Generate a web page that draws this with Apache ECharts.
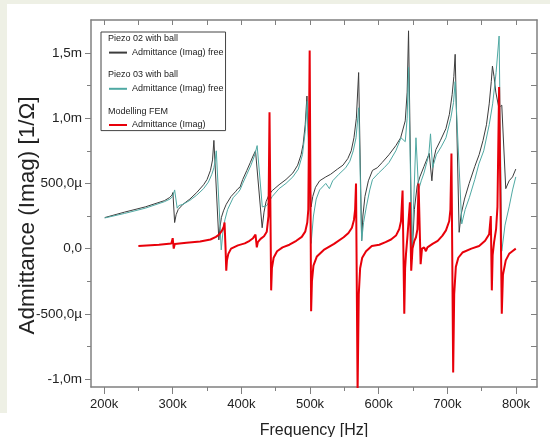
<!DOCTYPE html>
<html><head><meta charset="utf-8">
<script src="https://cdn.jsdelivr.net/npm/echarts@6/dist/echarts.min.js"></script>
<style>html,body{margin:0;padding:0;background:#fff}#c{width:550px;height:437px}</style>
</head><body><div id="c"></div>
<script>
// Frequencies in kHz, admittance in mS (1e-3 1/Ohm)
const freqPiezo02 = [201,230,260,288,295,299,300.3,302.8,305,308,315,325,335,345,350,355,358,360,367.2,369,371,374,378,385,392,395,398,400,402,408,413,417,420.6,430.3,433,436,440,445,455,465,475,482,487,490,493,495.5,501.6,504,508,514,523,530,540,548,555,560,564,567.5,570.8,575.2,577,580,585,591,598,605,615,625,632,638.7,641.5,643.5,648.4,652,656,660,666,673.6,675,677.5,680,683.4,690,697.9,703,707,709.5,711.4,717.2,720,725,731.8,740,746.3,752,757,761,764,765.7,768,770.6,775,779.3,785.1,790,795,799.7];
const valPiezo02  = [0.238,0.28,0.32,0.368,0.39,0.41,0.43,0.20,0.26,0.30,0.34,0.38,0.43,0.49,0.53,0.60,0.68,0.83,0.067,0.17,0.24,0.29,0.34,0.40,0.44,0.46,0.47,0.47,0.53,0.60,0.66,0.71,0.75,0.16,0.28,0.36,0.41,0.445,0.49,0.53,0.58,0.64,0.72,0.80,0.95,1.17,0.32,0.40,0.47,0.52,0.55,0.57,0.61,0.64,0.69,0.75,0.85,1.0,1.35,0.06,0.25,0.40,0.52,0.60,0.62,0.66,0.72,0.79,0.85,0.98,1.2,1.67,-0.08,0.3,0.48,0.55,0.63,0.73,0.72,0.52,0.68,0.76,0.83,0.92,1.03,1.18,1.32,1.49,0.125,0.26,0.38,0.50,0.63,0.72,0.83,0.95,1.11,1.28,1.40,1.32,1.20,1.08,1.10,0.46,0.52,0.55,0.61];

const freqPiezo03 = [201,230,260,288,296,300,302.8,306.5,309,315,325,335,345,352,357,360,362,363.5,370.7,373,376,380,388,395,398,402,408,414,419,423,430.5,437,445,455,465,475,483,489,493,496,501.6,505,509,514,523,528.2,533,542,552,558,563,567,571,575.2,578,582,587,591,600,608,615,625,632.5,638.7,641.5,643.5,648.4,654.3,658.1,662,666,670,673,675.5,678.5,684,691,698,705,709,711.4,721,726,732,740,746,753,761,766,771,775.4,779.3,784,790,795,799.7];
const valPiezo03  = [0.235,0.27,0.31,0.36,0.38,0.40,0.45,0.31,0.33,0.34,0.37,0.41,0.46,0.51,0.57,0.62,0.68,0.75,-0.01,0.12,0.22,0.30,0.39,0.43,0.45,0.50,0.57,0.64,0.71,0.79,0.32,0.33,0.40,0.46,0.50,0.55,0.61,0.72,0.90,1.13,0.04,0.25,0.38,0.45,0.50,0.46,0.52,0.57,0.62,0.67,0.75,0.85,1.08,0.06,0.20,0.32,0.45,0.53,0.58,0.62,0.66,0.75,0.85,0.82,1.0,1.39,-0.03,0.85,0.45,0.52,0.58,0.66,0.72,0.88,0.62,0.72,0.78,0.85,1.0,1.12,1.28,0.19,0.30,0.39,0.53,0.65,0.75,0.95,1.11,1.35,1.63,-0.02,0.18,0.32,0.45,0.55];

const freqFEM = [250,280,298,300,301.5,303,320,340,355,363,368,372,374.5,375.5,377,378,379,381,385,395,405,412,417,420.6,422.5,424,428,433,437,439.5,441,443.4,444.5,447,452,460,470,480,488,493,496,497.5,499.5,501.6,502.8,505,510,520,535,549,556,561,564,565.7,567,569.3,571,573,576,581.6,590,600.9,610,618,625.2,630,632.5,634.8,637.3,638.5,639.8,642,643.5,645.5,647.4,649.3,652,654.3,656.5,658.1,661.1,663.1,666.3,668.8,671,678.4,686,692.9,698,702.7,704.5,706,708.5,710,712.4,716,722,735,746.3,755,760.9,763.3,764.8,766,768.1,771,773,775.4,779.3,781,785.1,790,794.7,799.7];
const valFEM  = [0.02,0.03,0.04,0.08,0.0,0.035,0.045,0.055,0.07,0.09,0.11,0.14,0.17,0.20,0.0,-0.17,-0.09,-0.04,0.0,0.025,0.04,0.06,0.08,0.107,0.01,0.05,0.075,0.095,0.13,0.25,1.045,-0.32,-0.15,-0.07,-0.02,0.01,0.03,0.06,0.09,0.13,0.2,0.3,1.52,-0.48,-0.25,-0.13,-0.06,-0.01,0.036,0.087,0.12,0.16,0.22,0.3,0.5,-1.1,-0.35,-0.15,-0.07,-0.02,0.02,0.03,0.05,0.07,0.10,0.15,0.21,0.445,-0.5,-0.15,-0.04,0.1,0.21,0.355,-0.17,0.0,0.06,0.087,0.15,0.5,-0.12,0.0,0.01,-0.02,0.01,0.036,0.06,0.1,0.14,0.21,0.3,0.73,-0.95,-0.35,-0.14,-0.07,-0.03,0.0,0.02,0.06,0.11,0.25,-0.32,-0.05,0.05,0.15,0.32,1.24,-0.5,-0.2,-0.09,-0.04,-0.02,0.0];

const xMajorTicks = [200,300,400,500,600,700,800];
const xMajorLabels = ['200k','300k','400k','500k','600k','700k','800k'];
const xMinorTicks = [250,350,450,550,650,750];
const xTopTicks = [200,250,300,350,400,450,500,550,600,650,700,750,800];
const yMajorTicks = [-1,-0.5,0,0.5,1,1.5];
const yMajorLabels = ['-1,0m','-500,0\u00b5','0,0','500,0\u00b5','1,0m','1,5m'];
const yMinorTicks = [-0.75,-0.25,0.25,0.75,1.25];
const yRightTicks = [-1,-0.75,-0.5,-0.25,0,0.25,0.5,0.75,1,1.25,1.5];

const seriesNames = ['Piezo 02 with ball','Piezo 03 with ball','Modelling FEM'];
const legendLabels = ['Admittance (Imag) free','Admittance (Imag) free','Admittance (Imag)'];

const xMin = 181, xMax = 830.6, yMin = -1.061, yMax = 1.753;
const FONT = '"Liberation Sans", Arial, sans-serif';
const AX = '#808080';
const zip = (a,b) => a.map((f,i)=>[f,b[i]]);

const chart = echarts.init(document.getElementById('c'), null, {renderer:'canvas'});
const hidden = {show:false};
chart.setOption({
  animation:false,
  backgroundColor:'#ffffff',
  textStyle:{fontFamily:FONT},
  grid:{left:91, top:20, right:13, bottom:50, containLabel:false, outerBoundsMode:'none'},
  legend:{
    left:101, top:32, orient:'vertical', padding:[15,2,0,7], itemGap:25,
    itemWidth:18, itemHeight:14, borderColor:'#444', borderWidth:1, backgroundColor:'#fff',
    selectedMode:false, data:seriesNames,
    itemStyle:{opacity:0},
    formatter: n => legendLabels[seriesNames.indexOf(n)],
    textStyle:{fontSize:9, fontFamily:FONT, color:'#222'}
  },
  graphic:[
    {type:'rect', shape:{x:0,y:0,width:550,height:4}, style:{fill:'#eef0e5'}, z:-5},
    {type:'rect', shape:{x:0,y:0,width:7,height:413}, style:{fill:'#eef0e5'}, z:-5},
    {type:'text', left:108, top:34, z:100, style:{text:seriesNames[0], font:'9px '+FONT, fill:'#222'}},
    {type:'text', left:108, top:70, z:100, style:{text:seriesNames[1], font:'9px '+FONT, fill:'#222'}},
    {type:'text', left:108, top:107, z:100, style:{text:seriesNames[2], font:'9px '+FONT, fill:'#222'}}
  ],
  xAxis:[
    {type:'value', min:xMin, max:xMax, position:'bottom',
     axisLine:{show:true,onZero:false,lineStyle:{color:AX,width:1.5}},
     axisTick:{show:true,customValues:xMajorTicks,length:7,lineStyle:{color:AX}},
     axisLabel:{customValues:xMajorTicks, formatter:v=>xMajorLabels[xMajorTicks.indexOf(v)], fontSize:13, color:'#222', margin:11, fontFamily:FONT},
     splitLine:hidden,
     name:'Frequency [Hz]', nameLocation:'middle', nameGap:36, nameMoveOverlap:false,
     nameTextStyle:{fontSize:16,color:'#222',fontFamily:FONT}},
    {type:'value', min:xMin, max:xMax, position:'bottom',
     axisLine:{show:false,onZero:false}, axisTick:{show:true,customValues:xMinorTicks,length:4,lineStyle:{color:AX}},
     axisLabel:hidden, splitLine:hidden},
    {type:'value', min:xMin, max:xMax, position:'top',
     axisLine:{show:true,onZero:false,lineStyle:{color:AX,width:1.5}},
     axisTick:{show:true,inside:true,customValues:xTopTicks,length:5,lineStyle:{color:AX}},
     axisLabel:hidden, splitLine:hidden}
  ],
  yAxis:[
    {type:'value', min:yMin, max:yMax, position:'left',
     axisLine:{show:true,onZero:false,lineStyle:{color:AX,width:1.5}},
     axisTick:{show:true,customValues:yMajorTicks,length:6,lineStyle:{color:AX}},
     axisLabel:{customValues:yMajorTicks, formatter:v=>yMajorLabels[yMajorTicks.indexOf(v)], fontSize:13.5, color:'#222', margin:9, fontFamily:FONT},
     splitLine:hidden,
     name:'Admittance (Imag) [1/\u03a9]', nameLocation:'middle', nameGap:52, nameMoveOverlap:false,
     nameTextStyle:{fontSize:22.5,color:'#222',fontFamily:FONT,padding:[0,24,0,0]}},
    {type:'value', min:yMin, max:yMax, position:'left',
     axisLine:{show:false,onZero:false}, axisTick:{show:true,customValues:yMinorTicks,length:4,lineStyle:{color:AX}},
     axisLabel:hidden, splitLine:hidden},
    {type:'value', min:yMin, max:yMax, position:'right',
     axisLine:{show:true,onZero:false,lineStyle:{color:AX,width:1.5}},
     axisTick:{show:true,inside:true,customValues:yRightTicks,length:6,lineStyle:{color:AX}},
     axisLabel:hidden, splitLine:hidden}
  ],
  series:[
    {name:seriesNames[0], type:'line', xAxisIndex:0, yAxisIndex:0, symbol:'none', clip:true,
     data:zip(freqPiezo02,valPiezo02), lineStyle:{color:'#3c3c3c',width:1}, itemStyle:{color:'#3c3c3c'}},
    {name:seriesNames[1], type:'line', xAxisIndex:0, yAxisIndex:0, symbol:'none', clip:true,
     data:zip(freqPiezo03,valPiezo03), lineStyle:{color:'#4fa9a3',width:1}, itemStyle:{color:'#4fa9a3'}},
    {name:seriesNames[2], type:'line', xAxisIndex:0, yAxisIndex:0, symbol:'none', clip:true,
     data:zip(freqFEM,valFEM), lineStyle:{color:'#e8000a',width:2}, itemStyle:{color:'#e8000a'}}
  ]
});
</script></body></html>
